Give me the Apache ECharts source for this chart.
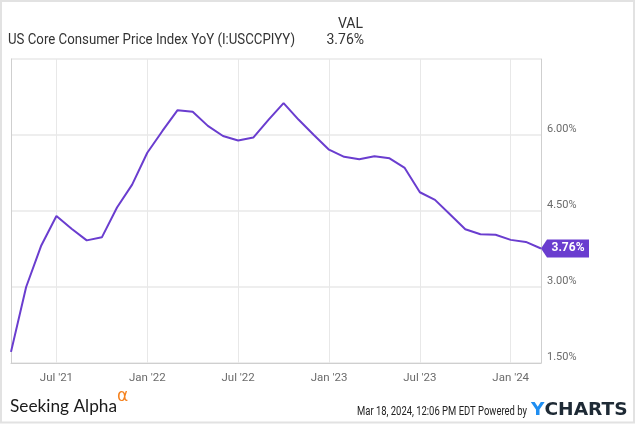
<!DOCTYPE html>
<html>
<head>
<meta charset="utf-8">
<script src="https://cdn.jsdelivr.net/npm/echarts@6/dist/echarts.min.js"></script>
<style>
html,body{margin:0;padding:0;background:#fff;}
#chart{width:635px;height:424px;}
</style>
</head>
<body>
<div id="chart"></div>
<script>
// ---- data (month-end observations) ----
const months = [
  '2021-03','2021-04','2021-05','2021-06','2021-07','2021-08','2021-09','2021-10','2021-11','2021-12',
  '2022-01','2022-02','2022-03','2022-04','2022-05','2022-06','2022-07','2022-08','2022-09','2022-10','2022-11','2022-12',
  '2023-01','2023-02','2023-03','2023-04','2023-05','2023-06','2023-07','2023-08','2023-09','2023-10','2023-11','2023-12',
  '2024-01','2024-02'
];
const values = [
  1.72, 3.00, 3.82, 4.40, 4.15, 3.92, 3.98, 4.57, 5.02, 5.65,
  6.08, 6.49, 6.46, 6.18, 5.98, 5.89, 5.95, 6.30, 6.63, 6.30, 6.00, 5.71,
  5.57, 5.52, 5.58, 5.54, 5.35, 4.87, 4.72, 4.43, 4.14, 4.04, 4.03, 3.93,
  3.89, 3.76
];
const xTickMonths = [6, 12, 18, 24, 30, 36];
const xTickLabels = ["Jul '21", "Jan '22", "Jul '22", "Jan '23", "Jul '23", "Jan '24"];
const yTicks = [1.5, 3.0, 4.5, 6.0, 7.5];
const seriesName = 'US Core Consumer Price Index YoY (I:USCCPIYY)';

// months since Jan 1 2021, month-end => month number
function toX(s) { const p = s.split('-'); return (+p[0] - 2021) * 12 + (+p[1]); }
const points = months.map((m, i) => [toX(m), values[i]]);
const last = points[points.length - 1];

const PURPLE = '#6a3dcf';
const GRID = '#e8e8e8';
const AXIS = '#cfcfcf';

const ctx = document.createElement('canvas').getContext('2d');
function fitScale(text, font, width) { ctx.font = font; return width / ctx.measureText(text).width; }

const titleFont = '14px Roboto';
const titleScale = fitScale(seriesName, titleFont, 287);
const saFont = '18px Lato';
const saScale = fitScale('Seeking Alpha', saFont, 107);
const dateText = 'Mar 18, 2024, 12:06 PM EDT Powered by';
const dateFont = '12px Roboto';
const dateScale = fitScale(dateText, dateFont, 170);
const ycFont = 'bold 17px "DejaVu Sans"';
const ycScale = fitScale('YCHARTS', ycFont, 96);

const chart = echarts.init(document.getElementById('chart'), null, {renderer: 'canvas'});
chart.setOption({
  animation: false,
  backgroundColor: '#fff',
  grid: {left: 11, right: 94, top: 59, bottom: 61, containLabel: false},
  xAxis: {
    type: 'value', min: toX(months[0]), max: toX(months[months.length - 1]), interval: 3,
    axisLine: {show: true, lineStyle: {color: AXIS, width: 1}},
    axisTick: {show: false},
    splitLine: {show: true, lineStyle: {color: ['rgba(0,0,0,0)', GRID], width: 1}},
    axisLabel: {
      color: '#6b6b6b', fontFamily: 'Roboto', fontSize: 11.5, margin: 9,
      showMinLabel: false, showMaxLabel: false,
      formatter: v => { const i = xTickMonths.indexOf(v); return i >= 0 ? xTickLabels[i] : ''; }
    }
  },
  yAxis: [{
    type: 'value', position: 'right', min: yTicks[0], max: yTicks[yTicks.length - 1], interval: 1.5,
    axisLine: {show: true, lineStyle: {color: AXIS, width: 1}},
    axisTick: {show: false},
    splitLine: {show: true, lineStyle: {color: GRID, width: 1.5}},
    axisLabel: {
      color: '#6b6b6b', fontFamily: 'Roboto', fontSize: 11, margin: 6,
      verticalAlign: 'bottom', showMaxLabel: false,
      formatter: v => v.toFixed(2) + '%'
    }
  }, {
    type: 'value', position: 'left', min: yTicks[0], max: yTicks[yTicks.length - 1],
    axisLine: {show: true, lineStyle: {color: AXIS, width: 1}},
    axisTick: {show: false}, axisLabel: {show: false}, splitLine: {show: false}
  }],
  series: [{
    name: seriesName,
    type: 'line', yAxisIndex: 0,
    data: points,
    showSymbol: false, smooth: false,
    lineStyle: {color: PURPLE, width: 2},
    itemStyle: {color: PURPLE},
    z: 5,
    markPoint: {
      silent: true,
      symbol: 'path://M0,9 L6,0 L48,0 L48,18 L6,18 Z',
      symbolSize: [48, 18],
      symbolOffset: ['50%', 0],
      itemStyle: {color: PURPLE},
      label: {
        show: true, position: 'inside', offset: [3, 0],
        color: '#fff', fontWeight: 'bold', fontFamily: 'Roboto', fontSize: 12,
        formatter: p => p.value.toFixed(2) + '%'
      },
      data: [{coord: last, value: last[1]}]
    }
  }],
  graphic: [
    {type: 'rect', shape: {x: 1, y: 1, width: 633, height: 421.5}, style: {fill: 'none', stroke: '#e2e2e2', lineWidth: 2}, silent: true},
    {type: 'text', x: 8, y: 40, scaleX: titleScale, style: {text: seriesName, font: titleFont, fill: '#333', textAlign: 'left', textVerticalAlign: 'middle'}},
    {type: 'text', x: 363, y: 24, style: {text: 'VAL', font: '14px Roboto', fill: '#333', textAlign: 'right', textVerticalAlign: 'middle'}},
    {type: 'text', x: 364, y: 40, style: {text: last[1].toFixed(2) + '%', font: '14px Roboto', fill: '#333', textAlign: 'right', textVerticalAlign: 'middle'}},
    {type: 'text', x: 10, y: 406, scaleX: saScale, style: {text: 'Seeking Alpha', font: saFont, fill: '#1a1a1a', textAlign: 'left', textVerticalAlign: 'middle'}},
    {type: 'text', x: 117, y: 397, style: {text: 'α', font: '17px "DejaVu Sans"', fill: '#f5821f', textAlign: 'left', textVerticalAlign: 'middle'}},
    {type: 'text', x: 357, y: 411.5, scaleX: dateScale, style: {text: dateText, font: dateFont, fill: '#222', textAlign: 'left', textVerticalAlign: 'middle'}},
    {type: 'text', x: 531, y: 410.5, scaleX: ycScale, style: {
      text: '{y|Y}{c|CHARTS}', font: ycFont, textAlign: 'left', textVerticalAlign: 'middle',
      rich: {y: {font: ycFont, fill: '#1f8ef1'}, c: {font: ycFont, fill: '#1e2a35'}}
    }}
  ]
});
</script>
</body>
</html>
